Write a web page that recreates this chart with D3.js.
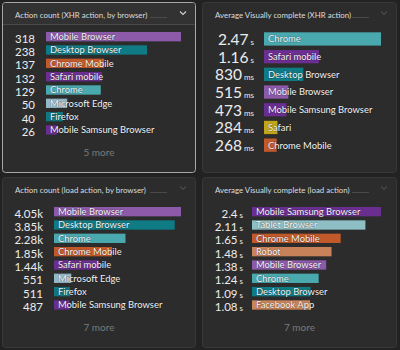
<!DOCTYPE html>
<html><head><meta charset="utf-8">
<script src="https://cdn.jsdelivr.net/npm/d3@7"></script>
<style>
html,body{margin:0;padding:0;background:#222;}
svg{display:block;font-family:Lato,"Noto Sans",sans-serif;}
</style></head><body>
<svg id="c" width="400" height="350"></svg>
<script>
// ---- data ----
const xhrCountCats = ["Mobile Browser","Desktop Browser","Chrome Mobile","Safari mobile","Chrome","Microsoft Edge","Firefox","Mobile Samsung Browser"];
const xhrCountVals = [318,238,137,132,129,50,40,26];
const xhrCountLabels = ["318","238","137","132","129","50","40","26"];

const xhrVcCats = ["Chrome","Safari mobile","Desktop Browser","Mobile Browser","Mobile Samsung Browser","Safari","Chrome Mobile"];
const xhrVcVals = [2.47,1.16,0.83,0.515,0.473,0.284,0.268]; // seconds
const xhrVcNums = ["2.47","1.16","830","515","473","284","268"];
const xhrVcUnits = ["s","s","ms","ms","ms","ms","ms"];

const loadCountCats = ["Mobile Browser","Desktop Browser","Chrome","Chrome Mobile","Safari mobile","Microsoft Edge","Firefox","Mobile Samsung Browser"];
const loadCountVals = [4050,3850,2280,1850,1440,551,511,487];
const loadCountLabels = ["4.05k","3.85k","2.28k","1.85k","1.44k","551","511","487"];

const loadVcCats = ["Mobile Samsung Browser","Tablet Browser","Chrome Mobile","Robot","Mobile Browser","Chrome","Desktop Browser","Facebook App"];
const loadVcVals = [2.4,2.11,1.65,1.48,1.38,1.24,1.09,1.08];
const loadVcNums = ["2.4","2.11","1.65","1.48","1.38","1.24","1.09","1.08"];
const loadVcUnits = ["s","s","s","s","s","s","s","s"];

const titles = ["Action count (XHR action, by browser)","Average Visually complete (XHR action)","Action count (load action, by browser)","Average Visually complete (load action)"];
const moreLabels = ["5 more", null, "7 more", "7 more"];

const browserColors = {
  "Mobile Browser":"#8c5aa9","Desktop Browser":"#0f7b85","Chrome Mobile":"#c2592a",
  "Safari mobile":"#6c2f91","Chrome":"#4aa9ae","Microsoft Edge":"#93b9c6",
  "Firefox":"#12767f","Mobile Samsung Browser":"#6a2e90","Safari":"#c1a518",
  "Tablet Browser":"#8ebfc4","Robot":"#c8825a","Facebook App":"#c9845a"
};

const svg = d3.select("#c");

function panel(cfg){
  const g = svg.append("g").attr("transform",`translate(${cfg.x},${cfg.y})`);
  const w = cfg.w, h = cfg.h;
  g.append("rect").attr("x",0.5).attr("y",0.5).attr("width",w-1).attr("height",h-1)
    .attr("rx",3).attr("fill","#2c2c2c")
    .attr("stroke",cfg.active?"#a8a8a8":"#383838").attr("stroke-width",1);
  if(cfg.active){
    g.append("path").attr("d",`M1.5,1.5H${w-1.5}V22H1.5Z`).attr("fill","#323232");
    g.append("line").attr("x1",1).attr("x2",w-1).attr("y1",22.5).attr("y2",22.5).attr("stroke","#4a4a4a");
  }
  g.append("text").attr("x",13).attr("y",16).attr("font-size",7.9).attr("fill","#dcdcdc").text(cfg.title);
  g.append("line").attr("x1",cfg.dashX).attr("x2",cfg.dashX+17).attr("y1",15.5).attr("y2",15.5).attr("stroke","#4a4a4a");
  g.append("path").attr("d",`M${w-16},9.5l3,3l3,-3`).attr("fill","none")
    .attr("stroke",cfg.active?"#cfcfcf":"#4a4a4a").attr("stroke-width",1.2);

  const n = cfg.cats.length;
  const y = d3.scaleBand().domain(cfg.cats).range([cfg.y0, cfg.y0+n*cfg.step])
    .paddingInner(cfg.pad).paddingOuter(cfg.pad/2);
  const x = d3.scaleLinear().domain([0,d3.max(cfg.vals)]).range([cfg.bx0, cfg.bx1]);
  const rows = g.selectAll("g.row").data(cfg.cats.map((c,i)=>({c,i,v:cfg.vals[i]}))).join("g");
  rows.append("rect").attr("x",x(0)).attr("y",d=>y(d.c)).attr("width",d=>x(d.v)-x(0))
    .attr("height",y.bandwidth()).attr("fill",d=>browserColors[d.c]);
  rows.append("text").attr("x",x(0)+4).attr("y",d=>y(d.c)+y.bandwidth()/2)
    .attr("dy","0.36em").attr("font-size",9.4).attr("fill","#f2f2f2")
    .style("paint-order","stroke").attr("stroke","rgba(0,0,0,0.25)").attr("stroke-width",1.2)
    .text(d=>d.c);
  const vt = rows.append("text").attr("x",cfg.vx).attr("y",d=>y(d.c)+y.bandwidth()/2)
    .attr("dy","0.37em").attr("text-anchor","end").attr("fill","#ececec");
  vt.append("tspan").attr("font-size",cfg.vfs).text(d=>cfg.nums[d.i]);
  if(cfg.units){
    vt.append("tspan").attr("font-size",cfg.ufs).attr("dx",cfg.udx).text(d=>cfg.units[d.i]);
  }
  if(cfg.more){
    g.append("text").attr("x",w/2).attr("y",154).attr("text-anchor","middle")
      .attr("font-size",10).attr("fill","#7a7a7a").text(cfg.more);
  }
}

panel({x:2,y:2,w:194,h:171,active:true,title:titles[0],dashX:148,
  cats:xhrCountCats,vals:xhrCountVals,nums:xhrCountLabels,
  y0:28,step:13.33,pad:0.3,bx0:44,bx1:179,vx:33,vfs:11.5,more:moreLabels[0]});
panel({x:202,y:2,w:195,h:171,title:titles[1],dashX:150,
  cats:xhrVcCats,vals:xhrVcVals,nums:xhrVcNums,units:xhrVcUnits,
  y0:28.1,step:17.7,pad:0.25,bx0:62,bx1:179,vx:52,vfs:15.5,ufs:8,udx:2,more:moreLabels[1]});
panel({x:2,y:177,w:194,h:171,title:titles[2],dashX:148,
  cats:loadCountCats,vals:loadCountVals,nums:loadCountLabels,
  y0:28,step:13.33,pad:0.3,bx0:52,bx1:179,vx:41,vfs:11.5,more:moreLabels[2]});
panel({x:202,y:177,w:195,h:171,title:titles[3],dashX:150,
  cats:loadVcCats,vals:loadVcVals,nums:loadVcNums,units:loadVcUnits,
  y0:28,step:13.33,pad:0.3,bx0:50,bx1:179,vx:41,vfs:11.5,ufs:8,udx:2,more:moreLabels[3]});
</script></body></html>
